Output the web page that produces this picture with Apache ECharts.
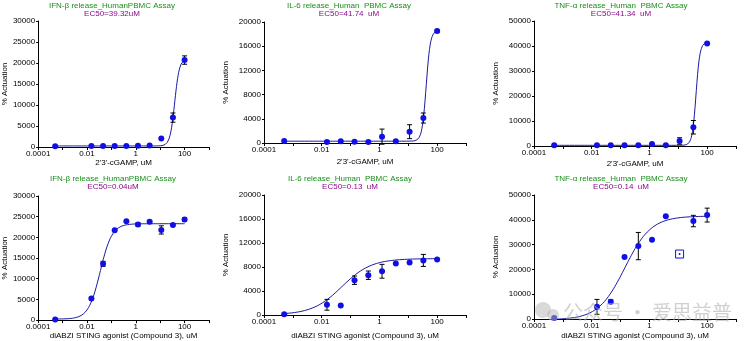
<!DOCTYPE html>
<html><head><meta charset="utf-8">
<script src="https://cdn.jsdelivr.net/npm/echarts@6/dist/echarts.min.js"></script>
<style>html,body{margin:0;padding:0;background:#fff}#c{width:752px;height:341px}</style>
</head><body><div id="c"></div>
<script>
// ---- data ----
const conc = [0.0005, 0.0152, 0.0457, 0.137, 0.412, 1.23, 3.70, 11.1, 33.3, 100];

const ifnCgampVals = [150, 250, 250, 250, 250, 300, 350, 2000, 7000, 20700];
const ifnCgampErr  = [0, 0, 0, 0, 0, 0, 0, 0, 1100, 1000];
const il6CgampVals = [330, 165, 275, 220, 165, 1050, 275, 1870, 4130, 18500];
const il6CgampErr  = [0, 0, 0, 0, 0, 1250, 0, 1150, 830, 200];
const tnfCgampVals = [270, 270, 270, 270, 270, 800, 270, 2000, 7500, 41000];
const tnfCgampErr  = [0, 0, 0, 0, 0, 0, 0, 1300, 2700, 0];

const ifnAbziVals = [160, 5200, 13600, 21700, 23900, 23100, 23800, 21800, 23000, 24300];
const ifnAbziErr  = [0, 300, 600, 0, 0, 400, 300, 1000, 0, 400];
const il6AbziVals = [110, 1700, 1590, 5800, 6630, 7290, 8600, 8770, 9100, 9260];
const il6AbziErr  = [0, 900, 0, 700, 700, 1150, 0, 0, 1000, 0];
const tnfAbziVals = [400, 4900, 7000, 25000, 29400, 32000, 41400, null, 39500, 41900];
const tnfAbziErr  = [0, 3000, 700, 0, 5500, 0, 0, 0, 2300, 2800];
const tnfAbziExcluded = [[11.1, 26200]];

// fitted 4PL curve parameters: [bottom, top, EC50, hill]
const ifnCgampFit = [250, 21000, 39.32, 4.5];
const il6CgampFit = [300, 18600, 41.74, 6];
const tnfCgampFit = [270, 41500, 41.34, 6.5];
const ifnAbziFit  = [250, 23300, 0.035, 1.8];
const il6AbziFit  = [50, 9400, 0.05, 0.85];
const tnfAbziFit  = [-300, 41500, 0.14, 0.95];

const titles = ['IFN-β release_HumanPBMC Assay', 'IL-6 release_Human  PBMC Assay', 'TNF-α release_Human  PBMC Assay',
                'IFN-β release_HumanPBMC Assay', 'IL-6 release_Human  PBMC Assay', 'TNF-α release_Human  PBMC Assay'];
const subtitles = ['EC50=39.32uM', 'EC50=41.74  uM', 'EC50=41.34  uM', 'EC50=0.04uM', 'EC50=0.13  uM', 'EC50=0.14  uM'];
const xNames = ["2'3'-cGAMP, uM", "2'3'-cGAMP, uM", "2'3'-cGAMP, uM",
                'diABZI STING agonist (Compound 3), uM', 'diABZI STING agonist (Compound 3), uM', 'diABZI STING agonist (Compound 3), uM'];
const yName = '% Actuation';
const yMax = [30000, 20000, 50000, 30000, 20000, 50000];
const yStep = [5000, 4000, 10000, 5000, 4000, 10000];
const xMin = 0.0001, xMax = 1000;

// ---- layout ----
const grids = [
  {left: 38, top: 21, width: 171, height: 126},
  {left: 264, top: 22, width: 202, height: 121},
  {left: 534, top: 21, width: 202, height: 125},
  {left: 38, top: 196, width: 171, height: 125},
  {left: 264, top: 195, width: 202, height: 122},
  {left: 534, top: 195, width: 202, height: 126}
];
const titleX = [112, 349, 621, 113, 350, 621];
const titleY = [[6, 14], [6, 13.5], [6, 13.5], [179, 187], [179, 187], [179, 186.5]];
const yNameGap = [28, 34, 34, 28, 34, 34];
const xNameGap = [11, 15, 14, 9, 17, 13];

const panels = [
  [ifnCgampVals, ifnCgampErr, ifnCgampFit],
  [il6CgampVals, il6CgampErr, il6CgampFit],
  [tnfCgampVals, tnfCgampErr, tnfCgampFit],
  [ifnAbziVals, ifnAbziErr, ifnAbziFit],
  [il6AbziVals, il6AbziErr, il6AbziFit],
  [tnfAbziVals, tnfAbziErr, tnfAbziFit]
];

const FONT = 'Liberation Sans, Arial, sans-serif';
const DOT = '#1010e6', CURVE = '#1a1aa0';

function fourPL(p, x) { return p[0] + (p[1] - p[0]) / (1 + Math.pow(p[2] / x, p[3])); }
function curvePts(p) {
  const pts = [], a = Math.log10(conc[0]), b = Math.log10(conc[conc.length - 1]), n = 240;
  for (let i = 0; i <= n; i++) { const x = Math.pow(10, a + (b - a) * i / n); pts.push([x, fourPL(p, x)]); }
  return pts;
}
function xLabel(v) {
  const e = Math.round(Math.log10(v));
  if (e % 2 !== 0) return '';
  return e >= 0 ? String(Math.pow(10, e)) : Math.pow(10, e).toFixed(-e);
}

const xAxes = [], yAxes = [], series = [], graphics = [];
panels.forEach((pn, i) => {
  xAxes.push({
    gridIndex: i, type: 'log', logBase: 10, min: xMin, max: xMax,
    name: xNames[i], nameLocation: 'middle', nameGap: xNameGap[i],
    nameTextStyle: {fontFamily: FONT, fontSize: 8, color: '#000'},
    axisLine: {lineStyle: {color: '#000', width: 1}},
    axisTick: {show: true, length: 3, lineStyle: {color: '#000'}},
    axisLabel: {formatter: xLabel, fontFamily: FONT, fontSize: 8, color: '#000', margin: 3, showMinLabel: true, showMaxLabel: true},
    splitLine: {show: false}, minorTick: {show: false}
  });
  yAxes.push({
    gridIndex: i, type: 'value', min: 0, max: yMax[i], interval: yStep[i],
    name: yName, nameLocation: 'middle', nameGap: yNameGap[i], nameRotate: 90,
    nameTextStyle: {fontFamily: FONT, fontSize: 8, color: '#000'},
    axisLine: {show: true, lineStyle: {color: '#000', width: 1}},
    axisTick: {show: true, length: 2, lineStyle: {color: '#000'}},
    axisLabel: {formatter: v => String(v), fontFamily: FONT, fontSize: 8, color: '#000', margin: 3},
    splitLine: {show: false}
  });
  const vals = pn[0], errs = pn[1];
  const pts = [], eb = [];
  conc.forEach((c, k) => { if (vals[k] != null) { pts.push([c, vals[k]]); if (errs[k] > 0) eb.push([c, vals[k], errs[k]]); } });
  series.push({
    type: 'line', xAxisIndex: i, yAxisIndex: i, data: curvePts(pn[2]), showSymbol: false, symbol: 'none',
    lineStyle: {color: CURVE, width: 1}, silent: true, z: 2, clip: true
  });
  series.push({
    type: 'custom', xAxisIndex: i, yAxisIndex: i, data: eb, z: 3, silent: true,
    renderItem: function (params, api) {
      const x = api.value(0), y = api.value(1), e = api.value(2);
      const p1 = api.coord([x, y + e]), p2 = api.coord([x, y - e]);
      const w = 2.5, st = {stroke: '#000', lineWidth: 1};
      return {type: 'group', children: [
        {type: 'line', shape: {x1: p1[0], y1: p1[1], x2: p2[0], y2: p2[1]}, style: st},
        {type: 'line', shape: {x1: p1[0] - w, y1: p1[1], x2: p1[0] + w, y2: p1[1]}, style: st},
        {type: 'line', shape: {x1: p2[0] - w, y1: p2[1], x2: p2[0] + w, y2: p2[1]}, style: st}
      ]};
    }
  });
  series.push({
    type: 'scatter', xAxisIndex: i, yAxisIndex: i, data: pts, symbol: 'circle', symbolSize: 6,
    itemStyle: {color: DOT, opacity: 1}, z: 4, silent: true
  });
  graphics.push({type: 'text', x: titleX[i], y: titleY[i][0], style: {text: titles[i], fill: '#1a8f1a', font: '8px ' + FONT, textAlign: 'center', textVerticalAlign: 'middle'}});
  graphics.push({type: 'text', x: titleX[i], y: titleY[i][1], style: {text: subtitles[i], fill: '#8a0a8a', font: '8px ' + FONT, textAlign: 'center', textVerticalAlign: 'middle'}});
});

// excluded point in TNF-α / diABZI panel
series.push({type: 'scatter', xAxisIndex: 5, yAxisIndex: 5, data: tnfAbziExcluded, symbol: 'rect', symbolSize: 8,
  itemStyle: {color: '#fff', borderColor: DOT, borderWidth: 1, opacity: 1}, z: 4, silent: true});
series.push({type: 'scatter', xAxisIndex: 5, yAxisIndex: 5, data: tnfAbziExcluded, symbol: 'circle', symbolSize: 2,
  itemStyle: {color: DOT, opacity: 1}, z: 5, silent: true});

// watermark
graphics.push({type: 'circle', shape: {cx: 543, cy: 310, r: 8}, style: {fill: 'rgba(180,180,180,0.5)'}, z: 100});
graphics.push({type: 'circle', shape: {cx: 553, cy: 315, r: 6}, style: {fill: 'rgba(180,180,180,0.5)'}, z: 100});
graphics.push({type: 'text', x: 563, y: 312, z: 100, style: {text: '公众号 · 爱思益普', fill: 'rgba(170,170,170,0.55)', font: '20px "Noto Sans CJK SC"', textAlign: 'left', textVerticalAlign: 'middle'}});

const chart = echarts.init(document.getElementById('c'), null, {renderer: 'canvas'});
chart.setOption({
  animation: false, backgroundColor: '#fff',
  grid: grids.map(g => Object.assign({containLabel: false}, g)),
  xAxis: xAxes, yAxis: yAxes, series: series, graphic: graphics
});
</script></body></html>
